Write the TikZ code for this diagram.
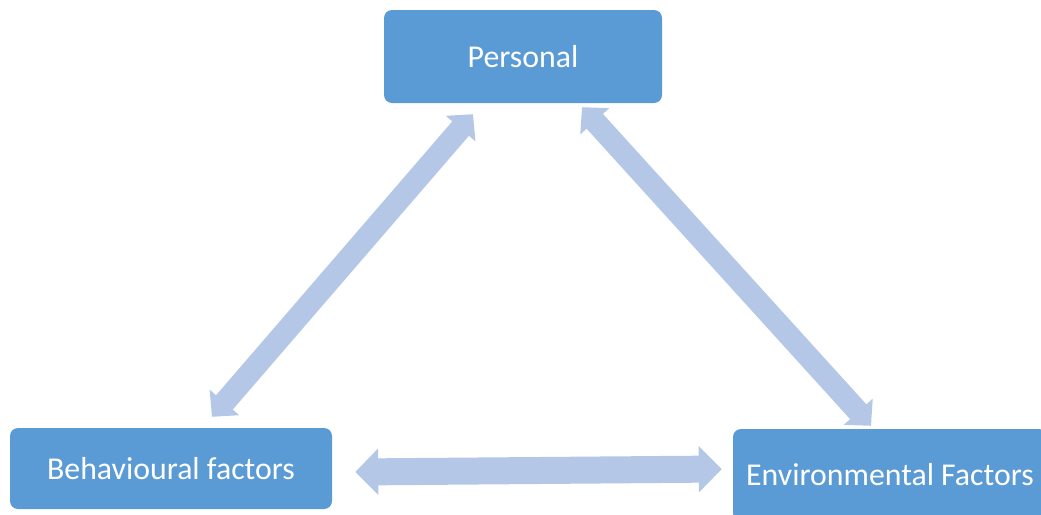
\documentclass[tikz,border=0pt]{standalone}
\usepackage{fontspec}
\setmainfont{Carlito}
\usepackage{xcolor}
\usepackage{tikz}
\usetikzlibrary{
  arrows.meta,
  positioning
}
\definecolor{boxblue}{RGB}{91,155,213}
\definecolor{arrowblue}{RGB}{180,199,231}

\begin{document}
\begin{tikzpicture}[
  x=1pt,y=-1pt,
  factor/.style={fill=boxblue,rounded corners=8pt,text=white,
                 font=\fontsize{31.8}{38}\selectfont,inner sep=0pt},
  link/.style  ={arrowblue,line width=22pt,
                 {Triangle[width=38pt,length=19pt]}-{Triangle[width=38pt,length=19pt]}},
  flat/.style  ={arrowblue,line width=27pt,
                 {Triangle[width=45pt,length=23pt]}-{Triangle[width=45pt,length=23pt]}},
]
\useasboundingbox (0,0) rectangle (1041,514);
\clip (0,0) rectangle (1041,514);

\node[factor,minimum width=278pt,minimum height=93pt] (pers) at (523,56.5) {Personal};
\node[factor,minimum width=322pt,minimum height=81pt] (beh)  at (171,468.5) {Behavioural factors};
\node[factor,minimum width=314pt,minimum height=92pt] (env)  at (890,475) {Environmental Factors};

\draw[link] ([xshift=41pt,yshift=11pt]beh.north) -- ([xshift=-50pt,yshift=-11pt]pers.south);
\draw[link] ([xshift=59pt,yshift=-4pt]pers.south) -- ([xshift=-19pt,yshift=3pt]env.north);
\draw[flat] ([xshift=23pt,yshift=-3.5pt]beh.east) -- ([xshift=-11pt,yshift=6pt]env.west);
\end{tikzpicture}
\end{document}
